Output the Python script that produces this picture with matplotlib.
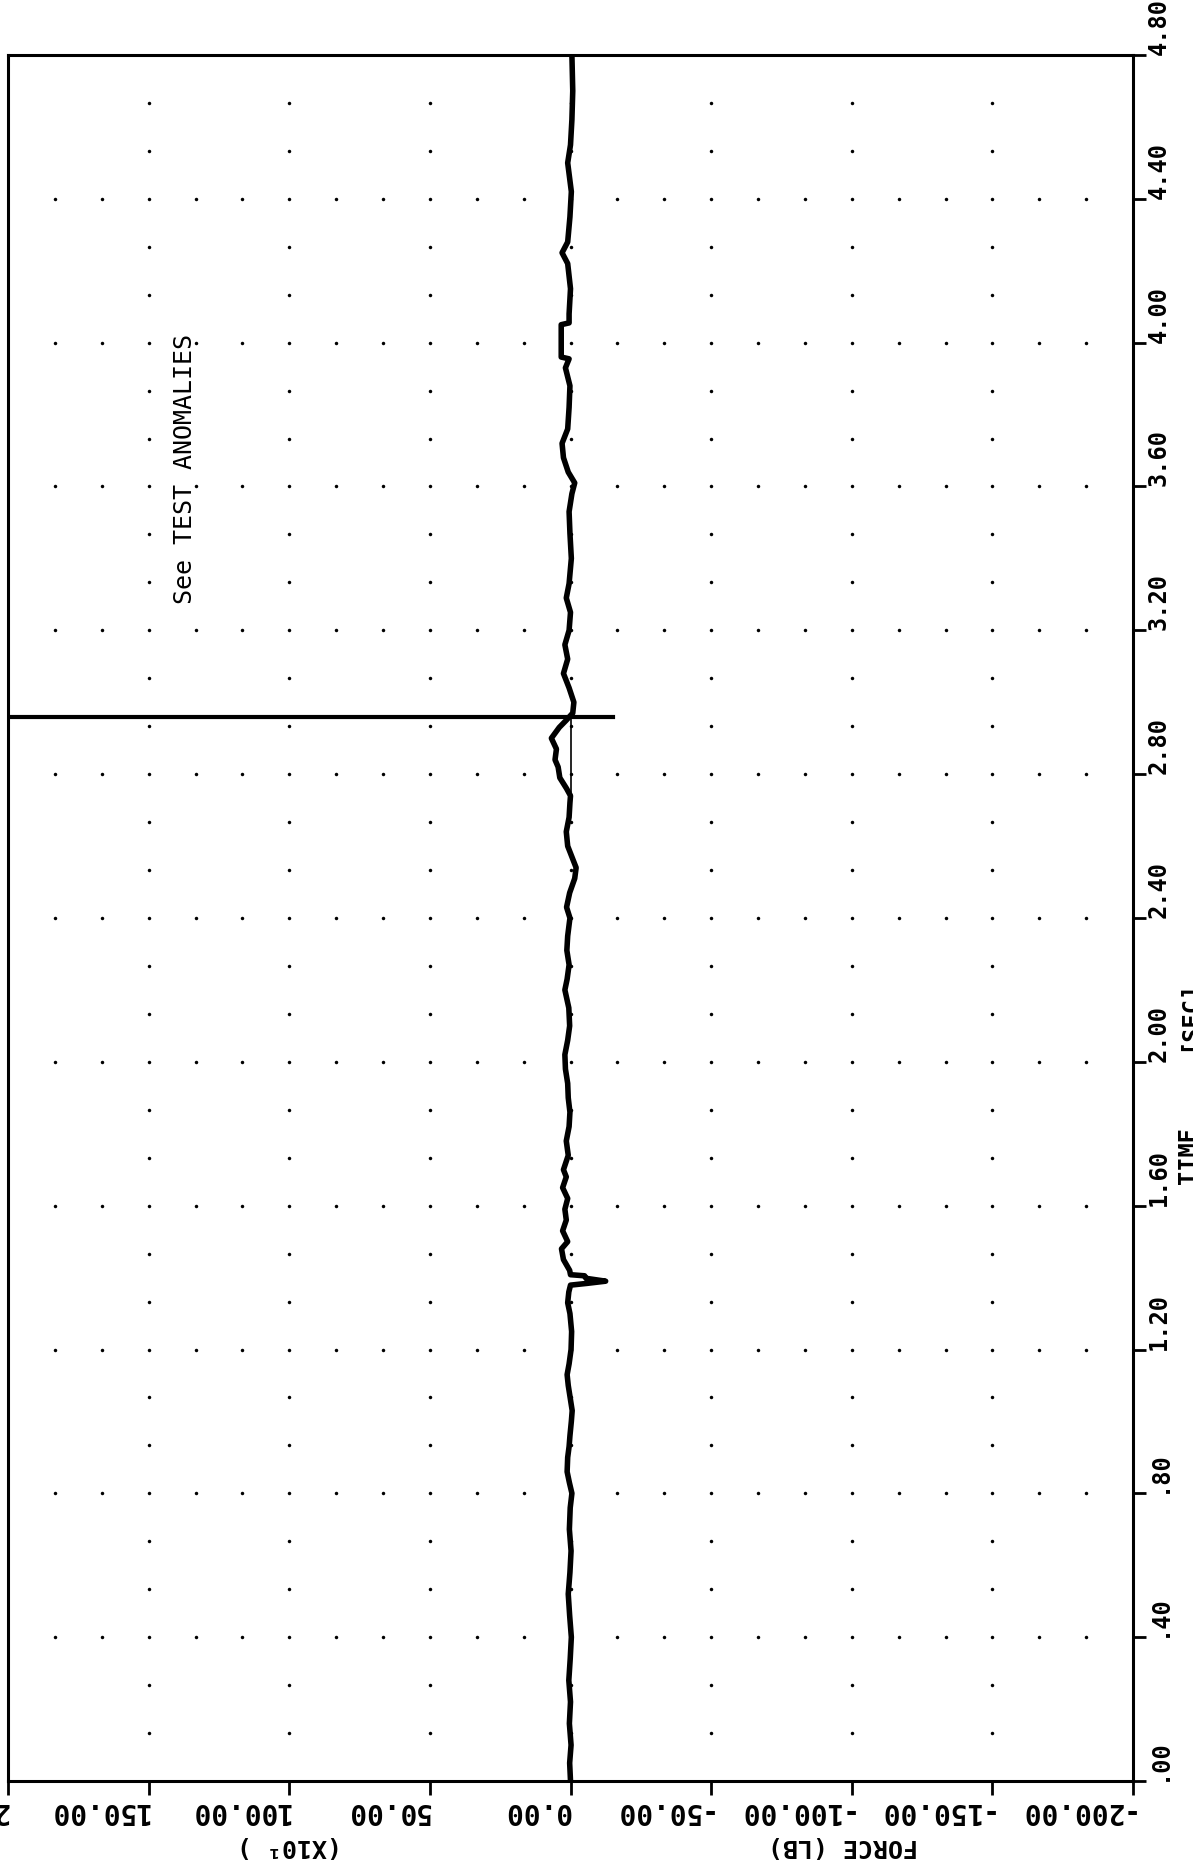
#! /usr/bin/env python3
"""
Force vs time trace, plotter output scanned sideways (time runs up the right edge).
"""
import numpy as np
import matplotlib
matplotlib.use("Agg")
from matplotlib import pyplot as plt
from matplotlib import transforms

# axis ticks
time_ticks = [0.0, 0.4, 0.8, 1.2, 1.6, 2.0, 2.4, 2.8, 3.2, 3.6, 4.0, 4.4, 4.8]
time_labels = [".00", ".40", ".80", "1.20", "1.60", "2.00", "2.40", "2.80",
               "3.20", "3.60", "4.00", "4.40", "4.80"]
force_ticks = [200, 150, 100, 50, 0, -50, -100, -150, -200]
force_labels = ["200.00", "150.00", "100.00", "50.00", "0.00", "-50.00",
                "-100.00", "-150.00", "-200.00"]

# trace: time [sec] / force [LB]
trace_t = [0.00, 0.05, 0.10, 0.16, 0.22, 0.28, 0.34, 0.40, 0.46, 0.52, 0.58,
           0.64, 0.70, 0.76, 0.80, 0.83, 0.86, 0.90, 0.93, 0.96, 1.00, 1.03,
           1.06, 1.10, 1.13, 1.16, 1.20, 1.25, 1.30, 1.33, 1.36, 1.379, 1.384,
           1.390, 1.398, 1.405, 1.408, 1.42, 1.45, 1.48, 1.50, 1.53, 1.56,
           1.59, 1.62, 1.65, 1.68, 1.70, 1.74, 1.78, 1.82, 1.86, 1.90, 1.94,
           1.98, 2.02, 2.06, 2.10, 2.15, 2.20, 2.23, 2.27, 2.31, 2.35, 2.40,
           2.43, 2.47, 2.51, 2.54, 2.57, 2.60, 2.64, 2.68, 2.72, 2.74, 2.76,
           2.79, 2.82, 2.84, 2.87, 2.90, 2.93, 2.95, 2.97, 3.00, 3.04, 3.08,
           3.12, 3.16, 3.20, 3.25, 3.29, 3.33, 3.40, 3.47, 3.53, 3.58, 3.61,
           3.64, 3.68, 3.72, 3.76, 3.82, 3.88, 3.93, 3.955, 3.96, 4.05, 4.055,
           4.08, 4.15, 4.22, 4.25, 4.28, 4.35, 4.42, 4.50, 4.55, 4.62, 4.70,
           4.80]
trace_f = [0.0, 0.3, -0.2, 0.4, 0.0, 0.6, 0.1, -0.3, 0.3, 0.8, 0.2,
           -0.2, 0.4, 0.1, -0.5, 0.4, 1.2, 1.0, 0.5, 0.2, -0.3, -0.6,
           0.0, 0.8, 1.2, 0.5, -0.2, -0.4, 0.2, 1.0, 0.6, 0.0, -6.0,
           -12.5, -5.5, -5.0, 0.0, 0.3, 2.5, 3.2, 1.0, 2.8, 1.5,
           2.0, 1.0, 2.8, 1.5, 2.5, 0.8, 1.5, 0.5, 0.2, 0.8, 1.0,
           1.8, 2.0, 1.0, 0.3, 0.6, 2.0, 1.2, 0.5, 1.3, 1.0, 0.2,
           1.4, 0.3, -1.5, -2.0, -0.5, 1.0, 1.5, 0.5, 0.2, 0.0, 1.4,
           3.8, 4.4, 5.5, 5.0, 6.8, 4.0, 1.5, -0.8, -1.2, 0.5, 2.5,
           1.0, 2.0, 0.5, 0.0, 1.5, 0.5, -0.3, 0.2, 0.5, -0.5, -1.5,
           0.8, 2.5, 3.0, 1.0, 0.5, 0.2, 1.8, 0.5, 3.3, 3.3, 0.5,
           0.5, 0.0, 1.0, 3.0, 1.0, 0.2, -0.3, 1.0, 0.0, -0.5, -0.8,
           -0.5]

# thin zero line under the anomaly and the cursor line
zero_t = [2.75, 2.96]
zero_f = [0.0, 0.0]
cursor_t = 2.96
cursor_f = [200, -15]

note = "See TEST ANOMALIES"


def main():
    plt.rcParams['font.family'] = ['DejaVu Sans Mono', 'DejaVu Sans']
    W, H = 1193, 1860
    fig = plt.figure(figsize=(W / 100, H / 100), dpi=100)
    x0, x1, ytop, ybot = 8, 1133, 55, 1781
    ax = fig.add_axes([x0 / W, 1 - ybot / H, (x1 - x0) / W, (ybot - ytop) / H])
    ax.set_xlim(200, -200)
    ax.set_ylim(0, 4.8)

    # dot grid: every 50/3 LB on the 0.4 s rows, every 50 LB on the 0.4/3 s rows
    fine_f = np.arange(-11, 12) * 50 / 3
    coarse_f = np.array([-150, -100, -50, 0, 50, 100, 150])
    major_t = np.array(time_ticks[1:-1])
    minor_t = np.array([k * 0.4 / 3 for k in range(1, 36) if k % 3])
    gx, gy = np.meshgrid(fine_f, major_t)
    ax.plot(gx.ravel(), gy.ravel(), ls='none', marker='o', ms=2.5, color='k', mew=0)
    gx, gy = np.meshgrid(coarse_f, minor_t)
    ax.plot(gx.ravel(), gy.ravel(), ls='none', marker='o', ms=2.5, color='k', mew=0)

    ax.plot(trace_f, trace_t, color='k', lw=4.0, solid_joinstyle='round')
    ax.plot(zero_f, zero_t, color='k', lw=1.2)
    ax.plot(cursor_f, [cursor_t, cursor_t], color='k', lw=3.0)

    ax.text(137, 3.65, note, rotation=90, ha='center', va='center',
            fontsize=18, family=['DejaVu Sans Mono'])

    for s in ax.spines.values():
        s.set_linewidth(2.2)

    ax.yaxis.tick_right()
    ax.set_yticks(time_ticks)
    ax.set_yticklabels(time_labels, rotation=90, va='bottom', ha='left',
                       fontsize=17, fontweight='bold')
    ax.set_xticks(force_ticks)
    ax.set_xticklabels(force_labels, rotation=180, ha='right', va='top',
                       fontsize=20, fontweight='bold')
    ax.tick_params(axis='y', direction='out', length=9, width=2, pad=1)
    ax.tick_params(axis='x', direction='out', length=10, width=2, pad=1.5)

    # axis titles written like extra label lines, cut by the right edge
    tr = transforms.blended_transform_factory(fig.transFigure, ax.transData)
    ax.text(1177 / W, 1.66, "TIME", transform=tr, rotation=90, ha='left',
            va='bottom', fontsize=17, fontweight='bold')
    ax.text(1177 / W, 2.03, "[SEC]", transform=tr, rotation=90, ha='left',
            va='bottom', fontsize=17, fontweight='bold')
    tb = transforms.blended_transform_factory(ax.transData, fig.transFigure)
    ax.text(100, 1 - 1834 / H, "(X10\u00b9 )", transform=tb, rotation=180,
            ha='center', va='top', fontsize=18, fontweight='bold')
    ax.text(-97, 1 - 1834 / H, "FORCE (LB)", transform=tb, rotation=180,
            ha='center', va='top', fontsize=18, fontweight='bold')

    fig.savefig("out.png", dpi=100)


if __name__ == '__main__':
    main()
